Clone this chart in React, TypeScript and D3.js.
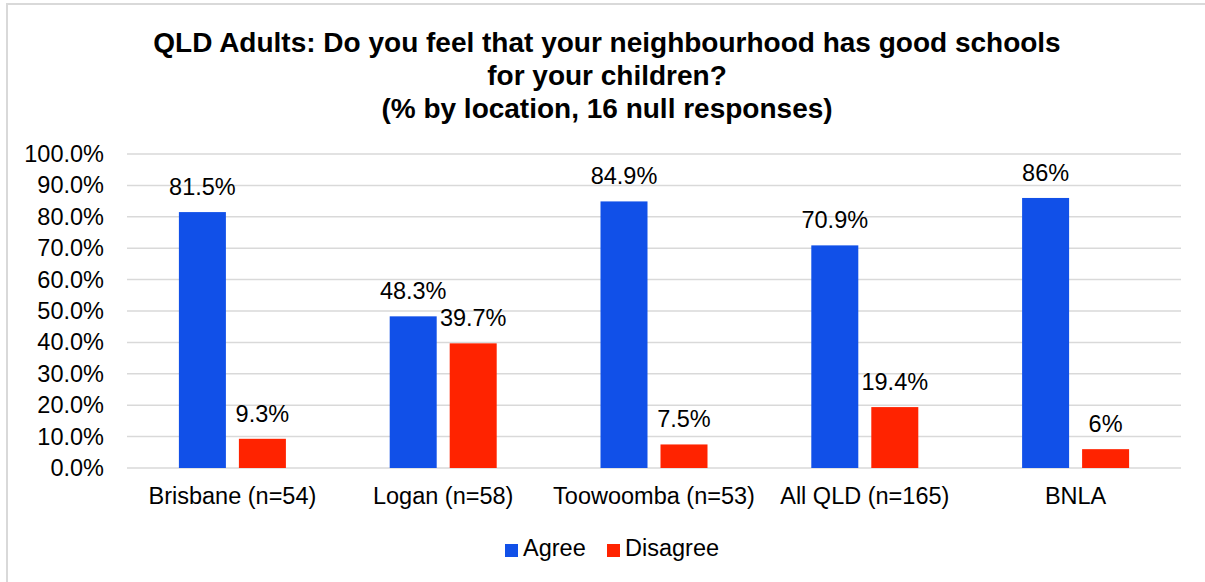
import { useRef, useEffect } from 'react';
import * as d3 from 'd3';

const categories = ['Brisbane (n=54)', 'Logan (n=58)', 'Toowoomba (n=53)', 'All QLD (n=165)', 'BNLA'];
const seriesNames = ['Agree', 'Disagree'];
const agree = [81.5, 48.3, 84.9, 70.9, 86];
const disagree = [9.3, 39.7, 7.5, 19.4, 6];
const agreeLabels = ['81.5%', '48.3%', '84.9%', '70.9%', '86%'];
const disagreeLabels = ['9.3%', '39.7%', '7.5%', '19.4%', '6%'];
const yTicks = [0, 10, 20, 30, 40, 50, 60, 70, 80, 90, 100];
const titleLines = [
  'QLD Adults: Do you feel that your neighbourhood has good schools',
  'for your children?',
  '(% by location, 16 null responses)',
];

const colors = ['#1150E8', '#FF2300'];
const font = "'Liberation Sans', Arial, sans-serif";
const labelSize = '23.5px';

export default function App() {
  const svgRef = useRef<SVGSVGElement>(null);
  const width = 1205;
  const height = 582;

  useEffect(() => {
    const svg = d3.select(svgRef.current);
    svg.selectAll('*').remove();

    const left = 127;
    const right = 1181;
    const top = 154;
    const bottom = 468;

    // frame
    svg.append('rect')
      .attr('x', 7)
      .attr('y', 4)
      .attr('width', width + 10)
      .attr('height', height + 10)
      .attr('fill', '#fff')
      .attr('stroke', '#d9d9d9')
      .attr('stroke-width', 2);

    // title
    svg.append('text')
      .attr('text-anchor', 'middle')
      .attr('font-family', font)
      .attr('font-weight', 'bold')
      .attr('font-size', '28px')
      .attr('fill', '#000')
      .selectAll('tspan')
      .data(titleLines)
      .join('tspan')
      .attr('x', 607)
      .attr('y', (_, i) => 52 + i * 33)
      .text((d) => d);

    const y = d3.scaleLinear().domain([0, 100]).range([bottom, top]);
    const x0 = d3.scaleBand<string>().domain(categories).range([left, right]);
    const groupW = 107;
    const x1 = d3.scaleBand<string>().domain(seriesNames).range([0, groupW]).paddingInner(13 / 60);
    const offset = (x0.bandwidth() - groupW) / 2;

    // gridlines
    svg.append('g')
      .selectAll('line')
      .data(yTicks)
      .join('line')
      .attr('x1', left)
      .attr('x2', right)
      .attr('y1', (d) => y(d))
      .attr('y2', (d) => y(d))
      .attr('stroke', '#d9d9d9')
      .attr('stroke-width', 1.5);

    // y tick labels
    svg.append('g')
      .selectAll('text')
      .data(yTicks)
      .join('text')
      .attr('x', 104)
      .attr('y', (d) => y(d) + 8)
      .attr('text-anchor', 'end')
      .attr('font-family', font)
      .attr('font-size', labelSize)
      .attr('fill', '#000')
      .text((d) => `${d.toFixed(1)}%`);

    const series = [
      { name: seriesNames[0], values: agree, labels: agreeLabels, color: colors[0] },
      { name: seriesNames[1], values: disagree, labels: disagreeLabels, color: colors[1] },
    ];

    series.forEach((s) => {
      const g = svg.append('g');
      g.selectAll('rect')
        .data(s.values)
        .join('rect')
        .attr('x', (_, i) => (x0(categories[i]) ?? 0) + offset + (x1(s.name) ?? 0))
        .attr('y', (d) => y(d))
        .attr('width', x1.bandwidth())
        .attr('height', (d) => bottom - y(d))
        .attr('fill', s.color);

      g.selectAll('text')
        .data(s.values)
        .join('text')
        .attr('x', (_, i) => (x0(categories[i]) ?? 0) + offset + (x1(s.name) ?? 0) + x1.bandwidth() / 2)
        .attr('y', (d) => y(d) - 17)
        .attr('text-anchor', 'middle')
        .attr('font-family', font)
        .attr('font-size', labelSize)
        .attr('fill', '#000')
        .text((_, i) => s.labels[i]);
    });

    // category labels
    svg.append('g')
      .selectAll('text')
      .data(categories)
      .join('text')
      .attr('x', (d) => (x0(d) ?? 0) + x0.bandwidth() / 2)
      .attr('y', 504)
      .attr('text-anchor', 'middle')
      .attr('font-family', font)
      .attr('font-size', labelSize)
      .attr('fill', '#000')
      .text((d) => d);

    // legend
    const legendX = [505, 607];
    const lg = svg.append('g');
    seriesNames.forEach((name, i) => {
      lg.append('rect')
        .attr('x', legendX[i])
        .attr('y', 544)
        .attr('width', 13)
        .attr('height', 13)
        .attr('fill', colors[i]);
      lg.append('text')
        .attr('x', legendX[i] + 18)
        .attr('y', 556)
        .attr('font-family', font)
        .attr('font-size', labelSize)
        .attr('fill', '#000')
        .text(name);
    });
  }, []);

  return (
    <svg
      ref={svgRef}
      width={width}
      height={height}
      viewBox={`0 0 ${width} ${height}`}
      style={{ position: 'absolute', left: 0, top: 0, display: 'block' }}
    />
  );
}
